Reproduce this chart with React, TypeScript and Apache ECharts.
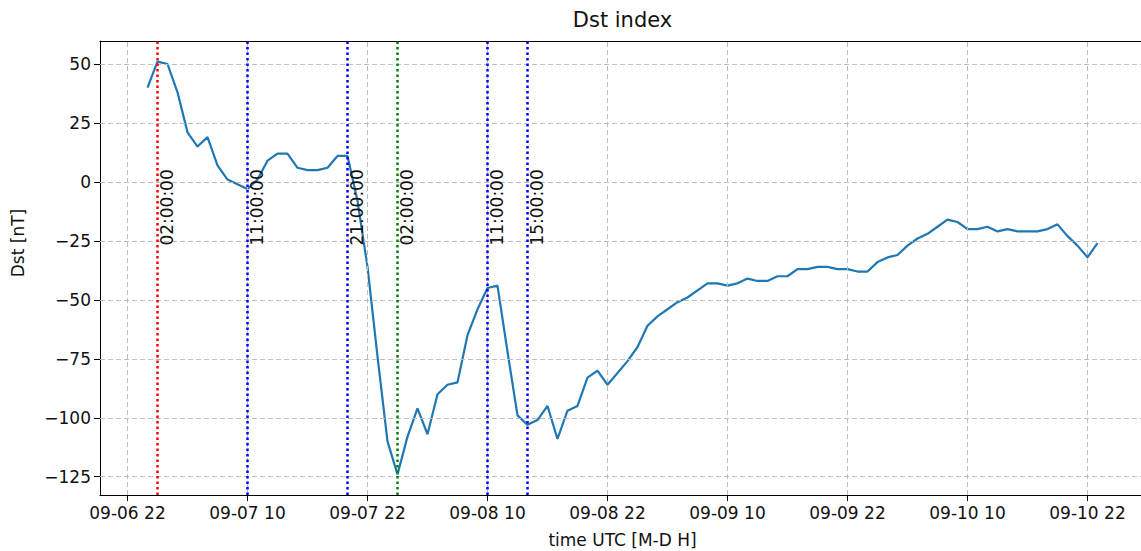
import React, { useEffect, useRef } from 'react';
import * as echarts from 'echarts';

// hours since 2017-09-06 00:00 UTC
const hours = [
  24, 25, 26, 27, 28, 29, 30, 31, 32, 33, 34, 35, 36, 37, 38, 39, 40, 41, 42, 43,
  44, 45, 46, 47, 48, 49, 50, 51, 52, 53, 54, 55, 56, 57, 58, 59, 60, 61, 62, 63,
  64, 65, 66, 67, 68, 69, 70, 71, 72, 73, 74, 75, 76, 77, 78, 79, 80, 81, 82, 83,
  84, 85, 86, 87, 88, 89, 90, 91, 92, 93, 94, 95, 96, 97, 98, 99, 100, 101, 102, 103,
  104, 105, 106, 107, 108, 109, 110, 111, 112, 113, 114, 115, 116, 117, 118, 119,
];
const dst = [
  40, 51, 50, 38, 21, 15, 19, 7, 1, -1, -3, 1, 9, 12, 12, 6, 5, 5, 6, 11,
  11, -8, -36, -74, -110, -124, -108, -96, -107, -90, -86, -85, -65, -54, -45, -44, -72, -99, -103, -101,
  -95, -109, -97, -95, -83, -80, -86, -81, -76, -70, -61, -57, -54, -51, -49, -46, -43, -43, -44, -43,
  -41, -42, -42, -40, -40, -37, -37, -36, -36, -37, -37, -38, -38, -34, -32, -31, -27, -24, -22, -19,
  -16, -17, -20, -20, -19, -21, -20, -21, -21, -21, -20, -18, -23, -27, -32, -26,
];
const xTicks = [22, 34, 46, 58, 70, 82, 94, 106, 118];
const yTicks = [-125, -100, -75, -50, -25, 0, 25, 50];
const eventHours = [25, 34, 44, 49, 58, 62];
const eventLabels = ['02:00:00', '11:00:00', '21:00:00', '02:00:00', '11:00:00', '15:00:00'];
const eventColors = ['#ff0000', '#0000ff', '#0000ff', '#008000', '#0000ff', '#0000ff'];
const xRange = [19.25, 123.75];
const yRange = [-132.75, 59.75];
const eventLabelAnchor = -27;

const FONT = 'DejaVu Sans';
const pad2 = (n: number) => String(n).padStart(2, '0');
const fmtX = (v: number) => `09-${pad2(6 + Math.floor(v / 24))} ${pad2(v % 24)}`;
const fmtY = (v: number) => (v < 0 ? '\u2212' + Math.abs(v) : String(v));

export default function App() {
  const ref = useRef<HTMLDivElement>(null);
  useEffect(() => {
    if (!ref.current) return;
    const chart = echarts.init(ref.current, undefined, { renderer: 'svg' });
    const G = { left: 100, top: 41, width: 1045, height: 454 };
    const option: any = {
      animation: false,
      backgroundColor: '#ffffff',
      textStyle: { fontFamily: FONT },
      grid: { ...G, show: false, outerBoundsMode: 'none', containLabel: false },
      xAxis: [
        {
          type: 'value',
          min: xRange[0],
          max: xRange[1],
          axisLine: { show: true, onZero: false, lineStyle: { color: '#000', width: 1 } },
          axisTick: { show: true, customValues: xTicks, length: 6, lineStyle: { color: '#000', width: 1 } },
          axisLabel: { customValues: xTicks, formatter: fmtX, fontSize: 17, color: '#111', margin: 9, fontFamily: FONT },
          splitLine: { show: false },
        },
        {
          type: 'value',
          position: 'top',
          min: xRange[0],
          max: xRange[1],
          axisLine: { show: true, onZero: false, lineStyle: { color: '#000', width: 1 } },
          axisTick: { show: false },
          axisLabel: { show: false },
          splitLine: { show: false },
        },
      ],
      yAxis: {
        type: 'value',
        min: yRange[0],
        max: yRange[1],
        axisLine: { show: true, onZero: false, lineStyle: { color: '#000', width: 1 } },
        axisTick: { show: true, customValues: yTicks, length: 6, lineStyle: { color: '#000', width: 1 } },
        axisLabel: { customValues: yTicks, formatter: fmtY, fontSize: 17, color: '#111', margin: 9, fontFamily: FONT },
        splitLine: { show: false },
      },
      series: [
        {
          type: 'line',
          z: 1,
          data: [],
          silent: true,
          markLine: {
            silent: true,
            symbol: ['none', 'none'],
            label: { show: false },
            lineStyle: { color: '#bcbcbc', width: 1, type: [5, 3] },
            data: [
              ...xTicks.map((v) => ({ xAxis: v })),
              ...yTicks.map((v) => ({ yAxis: v })),
            ],
          },
        },
        {
          type: 'line',
          z: 2,
          data: hours.map((h, i) => [h, dst[i]]),
          showSymbol: false,
          symbol: 'none',
          lineStyle: { color: '#1f77b4', width: 2.2 },
        },
        {
          type: 'line',
          z: 3,
          data: [],
          silent: true,
          markLine: {
            silent: true,
            symbol: ['none', 'none'],
            label: { show: false },
            data: eventHours.map((h, i) => ({
              xAxis: h,
              lineStyle: { color: eventColors[i], width: 2.5, type: [2.5, 3] },
            })),
          },
        },
      ],
    };
    chart.setOption(option);

    const cx = G.left + G.width / 2;
    const graphics: any[] = eventHours.map((h, i) => {
      const [px, py] = chart.convertToPixel({ gridIndex: 0 }, [h, eventLabelAnchor]) as number[];
      return {
        type: 'text',
        x: px + 1,
        y: py,
        rotation: Math.PI / 2,
        z: 10,
        style: {
          text: eventLabels[i],
          fontSize: 17,
          fontFamily: FONT,
          fill: '#111',
          align: 'left',
          verticalAlign: 'top',
        },
      };
    });
    graphics.push(
      {
        type: 'text',
        x: cx,
        y: 20,
        style: { text: 'Dst index', fontSize: 21, fontFamily: FONT, fill: '#111', align: 'center', verticalAlign: 'middle' },
      },
      {
        type: 'text',
        x: cx,
        y: 540,
        style: { text: 'time UTC [M-D H]', fontSize: 17, fontFamily: FONT, fill: '#111', align: 'center', verticalAlign: 'middle' },
      },
      {
        type: 'text',
        x: G.left - 82,
        y: 243,
        rotation: Math.PI / 2,
        style: { text: 'Dst [nT]', fontSize: 17, fontFamily: FONT, fill: '#111', align: 'center', verticalAlign: 'middle' },
      }
    );
    chart.setOption({ graphic: graphics });
    return () => chart.dispose();
  }, []);
  return (
    <div
      ref={ref}
      style={{ position: 'fixed', left: 0, top: 0, width: 1141, height: 551, background: '#fff' }}
    />
  );
}
